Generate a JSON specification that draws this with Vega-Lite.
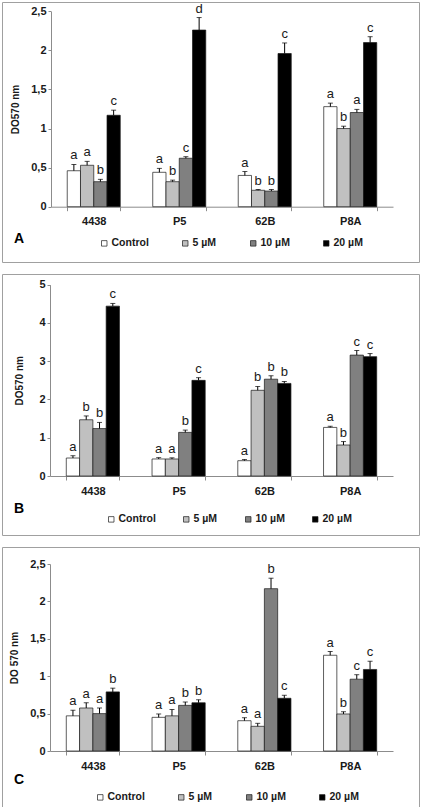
{
  "$schema": "https://vega.github.io/schema/vega-lite/v6.json",
  "padding": {"left": 1, "top": 1, "right": 1, "bottom": 0},
  "autosize": {"type": "pad"},
  "spacing": 10,
  "background": "white",
  "config": {
    "font": "Liberation Sans",
    "view": {"stroke": "#a0a0a0", "strokeWidth": 1},
    "axis": {
      "domainColor": "#8c8c8c",
      "tickColor": "#8c8c8c",
      "grid": false,
      "labelFont": "Liberation Sans",
      "labelFontWeight": "bold",
      "labelFontSize": 11,
      "labelColor": "#1a1a1a",
      "titleFont": "Liberation Sans",
      "titleFontWeight": "bold",
      "titleFontSize": 10,
      "titleColor": "#1a1a1a"
    },
    "legend": {
      "labelFont": "Liberation Sans",
      "labelFontWeight": "bold",
      "labelFontSize": 10.5,
      "labelColor": "#1a1a1a",
      "symbolType": "square",
      "symbolSize": 30,
      "symbolStrokeColor": "#1a1a1a",
      "symbolStrokeWidth": 0.7,
      "labelOffset": 2,
      "padding": 0,
      "title": null
    },
    "title": {"font": "Liberation Sans", "fontWeight": "bold", "fontSize": 14, "color": "#000000"}
  },
  "resolve": {
    "scale": {"x": "independent", "y": "independent", "xOffset": "independent"},
    "axis": {"x": "independent", "y": "independent"},
    "legend": {"color": "independent"}
  },
  "datasets": {
    "obs": [
      {"panel": "A", "strain": "4438", "conc": "Control", "value": 0.46, "err": 0.54, "letter": "a"},
      {"panel": "A", "strain": "4438", "conc": "5 µM", "value": 0.53, "err": 0.58, "letter": "a"},
      {"panel": "A", "strain": "4438", "conc": "10 µM", "value": 0.32, "err": 0.35, "letter": "b"},
      {"panel": "A", "strain": "4438", "conc": "20 µM", "value": 1.17, "err": 1.235, "letter": "c"},
      {"panel": "A", "strain": "P5", "conc": "Control", "value": 0.44, "err": 0.49, "letter": "a"},
      {"panel": "A", "strain": "P5", "conc": "5 µM", "value": 0.32, "err": 0.34, "letter": "b"},
      {"panel": "A", "strain": "P5", "conc": "10 µM", "value": 0.62, "err": 0.64, "letter": "c"},
      {"panel": "A", "strain": "P5", "conc": "20 µM", "value": 2.26, "err": 2.42, "letter": "d"},
      {"panel": "A", "strain": "62B", "conc": "Control", "value": 0.40, "err": 0.45, "letter": "a"},
      {"panel": "A", "strain": "62B", "conc": "5 µM", "value": 0.21, "err": 0.22, "letter": "b"},
      {"panel": "A", "strain": "62B", "conc": "10 µM", "value": 0.20, "err": 0.22, "letter": "b"},
      {"panel": "A", "strain": "62B", "conc": "20 µM", "value": 1.96, "err": 2.095, "letter": "c"},
      {"panel": "A", "strain": "P8A", "conc": "Control", "value": 1.28, "err": 1.325, "letter": "a"},
      {"panel": "A", "strain": "P8A", "conc": "5 µM", "value": 1.0, "err": 1.03, "letter": "b"},
      {"panel": "A", "strain": "P8A", "conc": "10 µM", "value": 1.205, "err": 1.245, "letter": "a"},
      {"panel": "A", "strain": "P8A", "conc": "20 µM", "value": 2.10, "err": 2.175, "letter": "c"},

      {"panel": "B", "strain": "4438", "conc": "Control", "value": 0.47, "err": 0.53, "letter": "a"},
      {"panel": "B", "strain": "4438", "conc": "5 µM", "value": 1.47, "err": 1.57, "letter": "b"},
      {"panel": "B", "strain": "4438", "conc": "10 µM", "value": 1.24, "err": 1.40, "letter": "b"},
      {"panel": "B", "strain": "4438", "conc": "20 µM", "value": 4.44, "err": 4.51, "letter": "c"},
      {"panel": "B", "strain": "P5", "conc": "Control", "value": 0.445, "err": 0.48, "letter": "a"},
      {"panel": "B", "strain": "P5", "conc": "5 µM", "value": 0.445, "err": 0.475, "letter": "a"},
      {"panel": "B", "strain": "P5", "conc": "10 µM", "value": 1.14, "err": 1.20, "letter": "b"},
      {"panel": "B", "strain": "P5", "conc": "20 µM", "value": 2.50, "err": 2.57, "letter": "c"},
      {"panel": "B", "strain": "62B", "conc": "Control", "value": 0.40, "err": 0.43, "letter": "a"},
      {"panel": "B", "strain": "62B", "conc": "5 µM", "value": 2.24, "err": 2.34, "letter": "b"},
      {"panel": "B", "strain": "62B", "conc": "10 µM", "value": 2.53, "err": 2.62, "letter": "b"},
      {"panel": "B", "strain": "62B", "conc": "20 µM", "value": 2.42, "err": 2.47, "letter": "b"},
      {"panel": "B", "strain": "P8A", "conc": "Control", "value": 1.27, "err": 1.30, "letter": "a"},
      {"panel": "B", "strain": "P8A", "conc": "5 µM", "value": 0.81, "err": 0.90, "letter": "b"},
      {"panel": "B", "strain": "P8A", "conc": "10 µM", "value": 3.16, "err": 3.28, "letter": "c"},
      {"panel": "B", "strain": "P8A", "conc": "20 µM", "value": 3.12, "err": 3.20, "letter": "c"},

      {"panel": "C", "strain": "4438", "conc": "Control", "value": 0.47, "err": 0.545, "letter": "a"},
      {"panel": "C", "strain": "4438", "conc": "5 µM", "value": 0.575, "err": 0.645, "letter": "a"},
      {"panel": "C", "strain": "4438", "conc": "10 µM", "value": 0.50, "err": 0.575, "letter": "a"},
      {"panel": "C", "strain": "4438", "conc": "20 µM", "value": 0.79, "err": 0.84, "letter": "b"},
      {"panel": "C", "strain": "P5", "conc": "Control", "value": 0.45, "err": 0.495, "letter": "a"},
      {"panel": "C", "strain": "P5", "conc": "5 µM", "value": 0.47, "err": 0.555, "letter": "a"},
      {"panel": "C", "strain": "P5", "conc": "10 µM", "value": 0.61, "err": 0.655, "letter": "b"},
      {"panel": "C", "strain": "P5", "conc": "20 µM", "value": 0.645, "err": 0.685, "letter": "b"},
      {"panel": "C", "strain": "62B", "conc": "Control", "value": 0.405, "err": 0.445, "letter": "a"},
      {"panel": "C", "strain": "62B", "conc": "5 µM", "value": 0.33, "err": 0.37, "letter": "a"},
      {"panel": "C", "strain": "62B", "conc": "10 µM", "value": 2.17, "err": 2.31, "letter": "b"},
      {"panel": "C", "strain": "62B", "conc": "20 µM", "value": 0.705, "err": 0.745, "letter": "c"},
      {"panel": "C", "strain": "P8A", "conc": "Control", "value": 1.28, "err": 1.33, "letter": "a"},
      {"panel": "C", "strain": "P8A", "conc": "5 µM", "value": 0.495, "err": 0.525, "letter": "b"},
      {"panel": "C", "strain": "P8A", "conc": "10 µM", "value": 0.96, "err": 1.02, "letter": "c"},
      {"panel": "C", "strain": "P8A", "conc": "20 µM", "value": 1.09, "err": 1.20, "letter": "c"}
    ]
  },
  "data": {"name": "obs"},
  "vconcat": [
    {
      "width": 417, "height": 260,
      "title": {"text": "A", "orient": "bottom", "anchor": "start", "frame": "group", "offset": -30, "dx": 12},
      "transform": [{"filter": "datum.panel == 'A'"}],
      "encoding": {
        "x": {"field": "strain", "type": "nominal", "sort": ["4438", "P5", "62B", "P8A"],
          "scale": {"range": [49, 391], "paddingInner": 0.38, "paddingOuter": 0.19},
          "axis": {"title": null, "labelAngle": 0, "offset": -55.3, "tickBand": "extent", "tickSize": 4, "labelPadding": 5}},
        "xOffset": {"field": "conc", "type": "nominal", "sort": ["Control", "5 µM", "10 µM", "20 µM"]}
      },
      "layer": [
        {"mark": {"type": "bar", "stroke": "#1a1a1a", "strokeWidth": 0.7},
          "encoding": {
            "y": {"field": "value", "type": "quantitative",
              "scale": {"domain": [0, 2.5], "range": [204.7, 9.3], "nice": false, "zero": true},
              "axis": {"title": "DO570 nm", "offset": -49, "values": [0, 0.5, 1, 1.5, 2, 2.5], "labelExpr": "replace(format(datum.value, '~g'), '.', ',')", "tickSize": 3, "labelPadding": 2, "titlePadding": 10}},
            "color": {"field": "conc", "type": "nominal", "sort": ["Control", "5 µM", "10 µM", "20 µM"],
              "scale": {"domain": ["Control", "5 µM", "10 µM", "20 µM"], "range": ["#ffffff", "#c0c0c0", "#808080", "#000000"]},
              "legend": {"orient": "none", "legendX": 97, "legendY": 236, "direction": "horizontal", "columns": 4, "columnPadding": 31}}
          }},
        {"mark": {"type": "rule", "color": "#000000", "strokeWidth": 1},
          "encoding": {"y": {"field": "value", "type": "quantitative"}, "y2": {"field": "err"}}},
        {"mark": {"type": "tick", "color": "#000000", "thickness": 1, "size": 5},
          "encoding": {"y": {"field": "err", "type": "quantitative"}}},
        {"mark": {"type": "text", "fontSize": 13, "color": "#1a1a1a", "baseline": "alphabetic", "dy": -5},
          "encoding": {"y": {"field": "err", "type": "quantitative"}, "text": {"field": "letter"}}}
      ]
    },
    {
      "width": 417, "height": 261,
      "title": {"text": "B", "orient": "bottom", "anchor": "start", "frame": "group", "offset": -33, "dx": 12},
      "transform": [{"filter": "datum.panel == 'B'"}],
      "encoding": {
        "x": {"field": "strain", "type": "nominal", "sort": ["4438", "P5", "62B", "P8A"],
          "scale": {"range": [48, 391], "paddingInner": 0.38, "paddingOuter": 0.19},
          "axis": {"title": null, "labelAngle": 0, "offset": -59, "tickBand": "extent", "tickSize": 4, "labelPadding": 5}},
        "xOffset": {"field": "conc", "type": "nominal", "sort": ["Control", "5 µM", "10 µM", "20 µM"]}
      },
      "layer": [
        {"mark": {"type": "bar", "stroke": "#1a1a1a", "strokeWidth": 0.7},
          "encoding": {
            "y": {"field": "value", "type": "quantitative",
              "scale": {"domain": [0, 5], "range": [202, 10.7], "nice": false, "zero": true},
              "axis": {"title": "DO570 nm", "offset": -48, "values": [0, 1, 2, 3, 4, 5], "tickSize": 3, "labelPadding": 2, "titlePadding": 14}},
            "color": {"field": "conc", "type": "nominal", "sort": ["Control", "5 µM", "10 µM", "20 µM"],
              "scale": {"domain": ["Control", "5 µM", "10 µM", "20 µM"], "range": ["#ffffff", "#c0c0c0", "#808080", "#000000"]},
              "legend": {"orient": "none", "legendX": 104, "legendY": 240, "direction": "horizontal", "columns": 4, "columnPadding": 25}}
          }},
        {"mark": {"type": "rule", "color": "#000000", "strokeWidth": 1},
          "encoding": {"y": {"field": "value", "type": "quantitative"}, "y2": {"field": "err"}}},
        {"mark": {"type": "tick", "color": "#000000", "thickness": 1, "size": 5},
          "encoding": {"y": {"field": "err", "type": "quantitative"}}},
        {"mark": {"type": "text", "fontSize": 13, "color": "#1a1a1a", "baseline": "alphabetic", "dy": -5},
          "encoding": {"y": {"field": "err", "type": "quantitative"}, "text": {"field": "letter"}}}
      ]
    },
    {
      "width": 417, "height": 262,
      "title": {"text": "C", "orient": "bottom", "anchor": "start", "frame": "group", "offset": -36, "dx": 12},
      "transform": [{"filter": "datum.panel == 'C'"}],
      "encoding": {
        "x": {"field": "strain", "type": "nominal", "sort": ["4438", "P5", "62B", "P8A"],
          "scale": {"range": [48, 391], "paddingInner": 0.38, "paddingOuter": 0.19},
          "axis": {"title": null, "labelAngle": 0, "offset": -58, "tickBand": "extent", "tickSize": 4, "labelPadding": 5}},
        "xOffset": {"field": "conc", "type": "nominal", "sort": ["Control", "5 µM", "10 µM", "20 µM"]}
      },
      "layer": [
        {"mark": {"type": "bar", "stroke": "#1a1a1a", "strokeWidth": 0.7},
          "encoding": {
            "y": {"field": "value", "type": "quantitative",
              "scale": {"domain": [0, 2.5], "range": [204, 17], "nice": false, "zero": true},
              "axis": {"title": "DO 570 nm", "offset": -48, "values": [0, 0.5, 1, 1.5, 2, 2.5], "labelExpr": "replace(format(datum.value, '~g'), '.', ',')", "tickSize": 3, "labelPadding": 2, "titlePadding": 10}},
            "color": {"field": "conc", "type": "nominal", "sort": ["Control", "5 µM", "10 µM", "20 µM"],
              "scale": {"domain": ["Control", "5 µM", "10 µM", "20 µM"], "range": ["#ffffff", "#c0c0c0", "#808080", "#000000"]},
              "legend": {"orient": "none", "legendX": 93, "legendY": 245, "direction": "horizontal", "columns": 4, "columnPadding": 31}}
          }},
        {"mark": {"type": "rule", "color": "#000000", "strokeWidth": 1},
          "encoding": {"y": {"field": "value", "type": "quantitative"}, "y2": {"field": "err"}}},
        {"mark": {"type": "tick", "color": "#000000", "thickness": 1, "size": 5},
          "encoding": {"y": {"field": "err", "type": "quantitative"}}},
        {"mark": {"type": "text", "fontSize": 13, "color": "#1a1a1a", "baseline": "alphabetic", "dy": -5},
          "encoding": {"y": {"field": "err", "type": "quantitative"}, "text": {"field": "letter"}}}
      ]
    }
  ]
}
